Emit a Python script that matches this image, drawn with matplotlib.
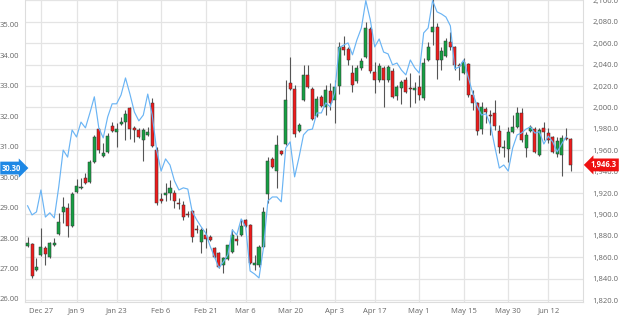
import numpy as np
import matplotlib
matplotlib.use("Agg")
import matplotlib.pyplot as plt
from matplotlib.ticker import FixedLocator, FuncFormatter

plt.rcParams['font.family'] = ['Open Sans', 'DejaVu Sans']

# daily candles (right axis), one per trading day from Dec 21 to Jun 20
opens = [1870.5, 1872.4, 1848.1, 1862.1, 1868.6, 1860.2, 1871.4, 1881.7, 1902.3, 1906.0,
         1889.2, 1921.0, 1924.7, 1934.0, 1930.3, 1949.0, 1979.8, 1954.6, 1958.3, 1982.6,
         1977.0, 1984.5, 1986.4, 1999.5, 1980.8, 1978.9, 1969.6, 1974.2, 2004.1, 1960.2,
         1914.4, 1918.1, 1920.0, 1920.0, 1910.7, 1908.8, 1900.4, 1903.2, 1886.4, 1874.2,
         1880.8, 1878.9, 1868.6, 1863.9, 1852.7, 1858.3, 1864.9, 1877.0, 1880.8, 1894.8,
         1890.1, 1852.7, 1852.7, 1869.6, 1919.1, 1951.8, 1940.6, 1959.3, 1965.8, 2022.8,
         2017.2, 1978.0, 2007.0, 2030.3, 2017.2, 1992.0, 2009.7, 2000.4, 2015.4, 2007.0,
         2020.0, 2056.5, 2054.6, 2032.2, 2024.7, 2036.8, 2047.1, 2073.3, 2033.1, 2025.6,
         2036.8, 2025.6, 2034.0, 2010.7, 2018.2, 2025.6, 2018.2, 2016.3, 2019.1, 2008.8,
         2044.3, 2070.5, 2075.2, 2044.3, 2048.1, 2061.1, 2056.5, 2039.7, 2032.2, 2040.6,
         2011.6, 2004.1, 1979.8, 1998.5, 1992.9, 1994.8, 1978.0, 1962.1, 1961.1, 1977.0,
         1981.7, 1994.8, 1962.1, 1978.0, 1979.8, 1955.5, 1980.8, 1976.1, 1972.4, 1956.5,
         1955.5, 1971.4, 1970.5]
highs = [1878.9, 1873.3, 1859.3, 1887.3, 1870.5, 1874.2, 1878.0, 1901.3, 1916.3, 1910.7,
         1921.0, 1933.1, 1934.0, 1938.7, 1950.9, 1974.2, 1980.8, 1966.8, 1976.1, 1986.4,
         1985.4, 1991.1, 1997.6, 2000.4, 1982.6, 1980.8, 1980.8, 1981.7, 2008.8, 1963.0,
         1920.0, 1929.4, 1932.2, 1922.8, 1915.4, 1912.5, 1903.2, 1904.1, 1890.1, 1887.3,
         1887.3, 1880.8, 1869.6, 1864.9, 1860.2, 1871.4, 1886.4, 1880.8, 1895.7, 1895.7,
         1891.1, 1862.1, 1871.4, 1906.9, 1953.7, 1953.7, 1974.2, 1960.2, 2025.6, 2047.1,
         2020.9, 1985.4, 2039.7, 2039.7, 2019.1, 2010.7, 2011.6, 2020.9, 2022.8, 2025.6,
         2061.1, 2066.8, 2056.5, 2039.7, 2039.7, 2046.2, 2079.8, 2075.2, 2042.5, 2041.5,
         2038.7, 2039.7, 2036.8, 2020.9, 2025.6, 2028.4, 2032.2, 2023.8, 2030.3, 2046.2,
         2061.1, 2103.2, 2078.9, 2056.5, 2064.9, 2070.5, 2057.4, 2041.5, 2046.2, 2041.5,
         2016.3, 2005.1, 2005.1, 2000.4, 1997.6, 2007.0, 1983.6, 1969.6, 1981.7, 1992.9,
         2000.4, 1999.5, 1977.0, 1983.6, 1981.7, 1980.8, 1986.4, 1980.8, 1973.3, 1972.4,
         1974.2, 1980.8, 1971.4]
lows = [1869.6, 1840.6, 1847.1, 1861.1, 1852.7, 1859.3, 1870.5, 1880.8, 1892.0, 1878.9,
        1888.2, 1920.0, 1923.8, 1928.4, 1929.4, 1948.1, 1957.4, 1953.7, 1957.4, 1977.0,
        1963.0, 1983.6, 1969.6, 1970.5, 1967.7, 1971.4, 1949.9, 1973.3, 1963.0, 1908.8,
        1910.7, 1912.5, 1913.5, 1906.0, 1905.1, 1894.8, 1897.6, 1874.2, 1882.6, 1864.0,
        1868.6, 1875.2, 1859.3, 1849.9, 1845.3, 1857.4, 1864.0, 1871.4, 1879.8, 1888.2,
        1853.7, 1848.1, 1850.9, 1868.6, 1910.7, 1943.4, 1924.7, 1955.5, 1964.9, 2016.3,
        1972.4, 1977.0, 2006.0, 2018.2, 1988.2, 1991.1, 2000.4, 1992.9, 1997.6, 1985.4,
        2012.5, 2049.0, 2039.7, 2014.4, 2022.8, 2035.0, 2046.2, 2032.2, 2013.5, 2023.8,
        2000.4, 2023.8, 2008.8, 2007.0, 2003.2, 2013.5, 2000.4, 2004.1, 2007.0, 2007.0,
        2043.4, 2058.3, 2026.6, 2035.0, 2047.1, 2053.7, 2035.0, 2025.6, 2031.2, 2009.7,
        1997.6, 1974.2, 1975.2, 1985.4, 1974.2, 1978.9, 1957.4, 1953.7, 1949.0, 1976.1,
        1980.8, 1967.7, 1953.7, 1977.0, 1957.4, 1954.6, 1969.6, 1966.8, 1957.4, 1953.7,
        1935.9, 1969.6, 1940.6]
closes = [1873.3, 1842.5, 1850.9, 1869.6, 1863.0, 1873.3, 1873.3, 1892.9, 1906.9, 1889.2,
          1919.1, 1926.6, 1925.6, 1929.4, 1949.0, 1972.4, 1960.2, 1957.4, 1973.3, 1978.0,
          1979.8, 1986.4, 1993.9, 1979.8, 1978.9, 1972.4, 1978.9, 1977.0, 1963.9, 1910.7,
          1912.5, 1920.0, 1924.7, 1912.5, 1909.7, 1897.6, 1899.5, 1878.9, 1885.4, 1885.4,
          1877.0, 1876.1, 1860.2, 1850.9, 1859.3, 1871.4, 1880.8, 1875.2, 1889.2, 1889.2,
          1854.6, 1854.6, 1869.6, 1902.3, 1949.9, 1944.3, 1964.9, 1956.5, 2007.0, 2017.2,
          1975.2, 1983.6, 2030.3, 2019.1, 1989.2, 2007.9, 2001.3, 2016.3, 2004.1, 2019.1,
          2056.5, 2053.7, 2044.3, 2020.9, 2036.8, 2043.4, 2074.2, 2034.0, 2025.6, 2038.7,
          2025.6, 2037.8, 2009.7, 2019.1, 2023.8, 2014.4, 2017.2, 2018.2, 2011.6, 2041.5,
          2056.5, 2075.2, 2044.3, 2052.7, 2062.1, 2056.5, 2039.7, 2038.7, 2042.5, 2011.6,
          2004.1, 1978.0, 2000.4, 1995.7, 1992.0, 1982.6, 1963.0, 1963.0, 1977.0, 1981.7,
          1994.8, 1969.6, 1974.2, 1981.7, 1958.3, 1978.9, 1977.0, 1969.6, 1958.3, 1968.6,
          1971.4, 1970.5, 1946.3]

# comparison line (left axis)
line_vals = [29.06, 28.76, 28.86, 29.58, 28.69, 28.83, 28.66, 29.68, 30.89, 30.66,
             31.55, 31.32, 31.81, 31.62, 32.11, 32.64, 31.62, 31.29, 31.98, 32.41,
             32.41, 32.70, 33.26, 32.73, 32.14, 31.85, 32.04, 32.73, 32.04, 30.89,
             30.20, 30.60, 30.40, 29.88, 29.58, 29.65, 29.61, 28.86, 28.60, 28.37,
             28.17, 27.74, 27.38, 27.02, 27.22, 27.45, 28.27, 28.10, 28.63, 28.37,
             26.92, 26.82, 26.69, 27.68, 29.22, 29.35, 29.35, 29.19, 30.96, 31.16,
             30.01, 30.66, 31.39, 31.55, 31.58, 32.11, 32.11, 32.44, 32.31, 32.77,
             34.25, 34.34, 34.41, 34.02, 34.51, 34.90, 35.80, 35.17, 34.28, 34.54,
             34.11, 34.05, 33.69, 33.75, 33.52, 33.36, 33.85, 33.59, 33.42, 34.74,
             34.90, 35.80, 35.43, 35.36, 35.26, 34.97, 33.56, 33.62, 33.85, 33.29,
             32.77, 32.34, 32.04, 32.08, 31.72, 30.99, 30.30, 30.40, 30.20, 30.96,
             31.39, 31.45, 31.58, 31.65, 31.45, 31.49, 31.09, 31.35, 31.16, 30.83,
             31.09, 31.32]

tick_idx = [3, 11, 20, 30, 40, 49, 59, 69, 78, 88, 98, 108, 117]
tick_labels = ["Dec 27", "Jan 9", "Jan 23", "Feb 6", "Feb 21", "Mar 6", "Mar 20",
               "Apr 3", "Apr 17", "May 1", "May 15", "May 30", "Jun 12"]
left_ticks = [26, 27, 28, 29, 30, 31, 32, 33, 34, 35]
right_ticks = list(range(1820, 2101, 20))
last_left = 30.30

W, H = 624, 318
fig = plt.figure(figsize=(W / 100, H / 100), dpi=100)
ax = fig.add_axes([25 / W, 16 / H, 558 / W, 302 / H])
ax2 = ax.twinx()

o, h, l, c = map(np.array, (opens, highs, lows, closes))
x = np.arange(len(o))
up = c >= o
green, red = "#16a043", "#ee1c1c"

ax.vlines(x, l, h, color="#555555", lw=0.8, zorder=2)
body = np.maximum(np.abs(c - o), 0.8)
ax.bar(x, body, bottom=np.minimum(o, c), width=0.68,
       color=np.where(up, green, red), edgecolor="#333333", linewidth=0.35, zorder=3)

ax.set_xlim(-0.58, 124.8)
ax.set_ylim(1818.2, 2100.4)
ax.yaxis.tick_right()
ax.yaxis.set_major_locator(FixedLocator(right_ticks))
ax.yaxis.set_major_formatter(FuncFormatter(lambda v, p: f"{v:,.1f}"))
ax.set_xticks(tick_idx)
ax.set_xticklabels(tick_labels)
ax.tick_params(axis="both", length=0, labelsize=5.5, labelcolor="#666666")
ax.tick_params(axis="y", pad=7)
ax.tick_params(axis="x", pad=4)
ax.grid(True, color="#e4e4e4", lw=0.9)
ax.set_axisbelow(True)
for s in ax.spines.values():
    s.set_color("#dddddd")
    s.set_linewidth(0.8)
ax.spines["top"].set_visible(False)

ax2.plot(np.arange(len(line_vals)), line_vals, color="#6ab4f4", lw=0.85, zorder=5)
ax2.set_ylim(25.90, 35.82)
ax2.yaxis.tick_left()
ax2.set_yticks(left_ticks)
ax2.yaxis.set_major_formatter(FuncFormatter(lambda v, p: f"{v:.2f}"))
ax2.tick_params(axis="y", length=0, labelsize=5.5, labelcolor="#666666", pad=4)
for s in ax2.spines.values():
    s.set_visible(False)

# value badges
ax2.annotate(f"{last_left:.2f}", xy=(0, last_left), xycoords=("axes fraction", "data"),
             xytext=(-9.5, 0), textcoords="offset points", ha="center", va="center",
             fontsize=5.5, color="white", fontweight="bold", zorder=10,
             bbox=dict(boxstyle="rarrow,pad=0.25", fc="#1e88e5", ec="none"))
ax.annotate(f"{closes[-1]:,.1f}", xy=(1, closes[-1]), xycoords=("axes fraction", "data"),
            xytext=(15, 0), textcoords="offset points", ha="center", va="center",
            fontsize=5.5, color="white", fontweight="bold", zorder=10,
            bbox=dict(boxstyle="larrow,pad=0.25", fc="#ee1111", ec="none"))

fig.savefig("out.png", dpi=100)
